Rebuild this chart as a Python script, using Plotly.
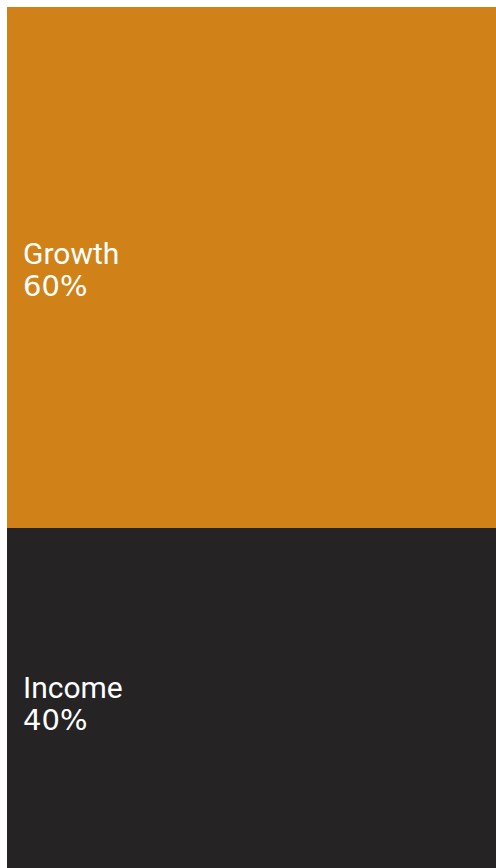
import plotly.graph_objects as go

# Portfolio split shown as one full-width stacked column
categories = ["Income", "Growth"]
shares = [40, 60]
colors = ["#252324", "#D08218"]

fig = go.Figure()
base = 0
for name, val, col in zip(categories, shares, colors):
    fig.add_trace(go.Bar(
        x=[0], y=[val], base=[base], width=[1],
        marker=dict(color=col, line=dict(width=0)),
        name=name, hoverinfo="skip", showlegend=False,
    ))
    mid = base + val / 2
    # label block: name on the first line, share on the second
    lines = (
        (name, 14, dict(family="Roboto", size=30)),
        (f"{val}%", -18, dict(family="DejaVu Sans", size=29)),
    )
    for txt, shift, fnt in lines:
        fig.add_annotation(
            x=0, xref="paper", y=mid, yref="y",
            text=txt, showarrow=False, xanchor="left", yanchor="middle",
            xshift=14, yshift=shift,
            font=dict(color="#ffffff", **fnt),
        )
    base += val

fig.update_layout(
    width=496, height=868,
    margin=dict(l=7, r=0, t=7, b=0),
    barmode="overlay", bargap=0,
    paper_bgcolor="#ffffff", plot_bgcolor="#ffffff",
    xaxis=dict(range=[-0.5, 0.5], visible=False, fixedrange=True),
    yaxis=dict(range=[0.85, 100], visible=False, fixedrange=True),
)

fig.write_html("out.html", config={"displayModeBar": False})
